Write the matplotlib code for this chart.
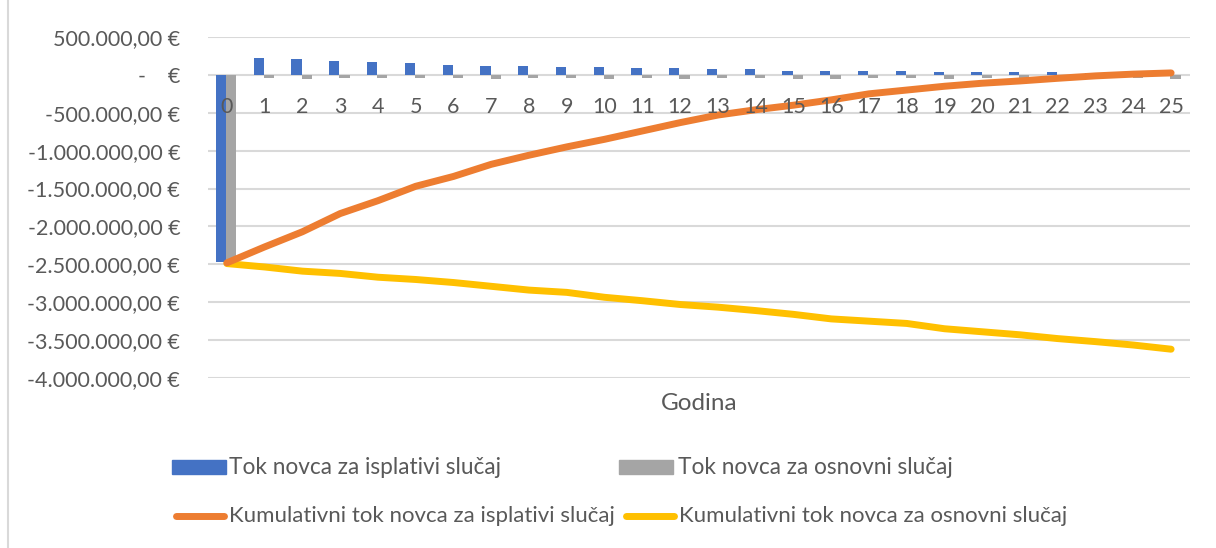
import matplotlib
matplotlib.use('Agg')
import matplotlib.pyplot as plt
from matplotlib.patches import Rectangle
from matplotlib.lines import Line2D
from matplotlib.ticker import FuncFormatter

plt.rcParams['font.family'] = ['Lato', 'DejaVu Sans']

# Podaci (očitano s grafa)
godine = list(range(26))
tok_isplativi = [-2470000, 220000, 206000, 188000, 171000, 154000, 136000, 123000,
                 120000, 105000, 105000, 88000, 88000, 75000, 75000, 53000, 53000,
                 53000, 53000, 35000, 35000, 35000, 35000, 20000, 8000, 6000]
tok_osnovni = [-2470000, -45000, -50000, -35000, -45000, -35000, -40000, -50000,
               -45000, -35000, -50000, -45000, -50000, -35000, -45000, -50000,
               -55000, -35000, -35000, -60000, -45000, -40000, -45000, -45000,
               -45000, -55000]
kum_isplativi = [-2480000, -2270000, -2070000, -1830000, -1660000, -1470000,
                 -1340000, -1180000, -1060000, -950000, -850000, -740000, -630000,
                 -530000, -460000, -400000, -330000, -250000, -200000, -150000,
                 -110000, -80000, -45000, -13000, 10000, 26000]
kum_osnovni = [-2490000, -2535000, -2590000, -2620000, -2670000, -2700000,
               -2740000, -2790000, -2840000, -2870000, -2935000, -2980000,
               -3030000, -3065000, -3110000, -3160000, -3220000, -3250000,
               -3280000, -3350000, -3390000, -3430000, -3480000, -3520000,
               -3565000, -3620000]
y_ticks = [500000, 0, -500000, -1000000, -1500000, -2000000, -2500000,
           -3000000, -3500000, -4000000]

naziv_x = 'Godina'
legenda = ['Tok novca za isplativi slučaj', 'Tok novca za osnovni slučaj',
           'Kumulativni tok novca za isplativi slučaj',
           'Kumulativni tok novca za osnovni slučaj']

c_blue = '#4472C4'
c_gray = '#A5A5A5'
c_orange = '#ED7D31'
c_yellow = '#FFC000'
c_text = '#595959'
c_grid = '#D9D9D9'

W, H = 1216, 548
fig = plt.figure(figsize=(W / 100, H / 100), dpi=100)
ax = fig.add_axes([208 / W, 170 / H, 982 / W, 341 / H])

# stupci
bw = 0.27
ax.bar([g - 0.155 for g in godine], tok_isplativi, width=bw, color=c_blue, zorder=2)
ax.bar([g + 0.115 for g in godine], tok_osnovni, width=bw, color=c_gray, zorder=2)

# kumulativne linije
ax.plot(godine, kum_osnovni, color=c_yellow, lw=5, solid_capstyle='round',
        solid_joinstyle='round', zorder=3)
ax.plot(godine, kum_isplativi, color=c_orange, lw=5, solid_capstyle='round',
        solid_joinstyle='round', zorder=4)

ax.set_xlim(-0.5, 25.5)
ax.set_ylim(-4000000, 500000)
ax.set_yticks(y_ticks)


def eur(v, pos=None):
    if v == 0:
        return '-    €'
    s = f'{abs(v):,.2f}'.replace(',', 'X').replace('.', ',').replace('X', '.')
    return ('-' if v < 0 else '') + s + ' €'


ax.yaxis.set_major_formatter(FuncFormatter(eur))
ax.tick_params(axis='y', length=0, pad=20, labelsize=15.5, labelcolor=c_text)
ax.set_xticks([])
ax.grid(axis='y', color=c_grid, lw=1.5, zorder=0)
for s in ax.spines.values():
    s.set_visible(False)

# oznake kategorija ispod nul-linije
for g in godine:
    ax.text(g, -420000, str(g), ha='center', va='center', fontsize=15.5,
            color=c_text, zorder=5)

fig.text(699 / W, 1 - 403 / H, naziv_x, ha='center', va='center', fontsize=17.5,
         color=c_text)

# legenda (ručno)
y1 = 1 - 467 / H
y2 = 1 - 516 / H
fig.patches.append(Rectangle((172 / W, y1 - 7 / H), 54 / W, 14 / H,
                             transform=fig.transFigure, color=c_blue))
fig.patches.append(Rectangle((619 / W, y1 - 7 / H), 54 / W, 14 / H,
                             transform=fig.transFigure, color=c_gray))
fig.lines.append(Line2D([176 / W, 224 / W], [y2, y2], transform=fig.transFigure,
                        color=c_orange, lw=5, solid_capstyle='round'))
fig.lines.append(Line2D([626 / W, 674 / W], [y2, y2], transform=fig.transFigure,
                        color=c_yellow, lw=5, solid_capstyle='round'))
fig.text(229 / W, y1, legenda[0], ha='left', va='center', fontsize=16.3, color=c_text)
fig.text(678 / W, y1, legenda[1], ha='left', va='center', fontsize=16.3, color=c_text)
fig.text(229 / W, y2, legenda[2], ha='left', va='center', fontsize=16, color=c_text)
fig.text(679 / W, y2, legenda[3], ha='left', va='center', fontsize=16, color=c_text)

# lijevi rub okvira
fig.lines.append(Line2D([8 / W, 8 / W], [0, 1], transform=fig.transFigure,
                        color=c_grid, lw=1.5))

fig.savefig('out.png', dpi=100)
